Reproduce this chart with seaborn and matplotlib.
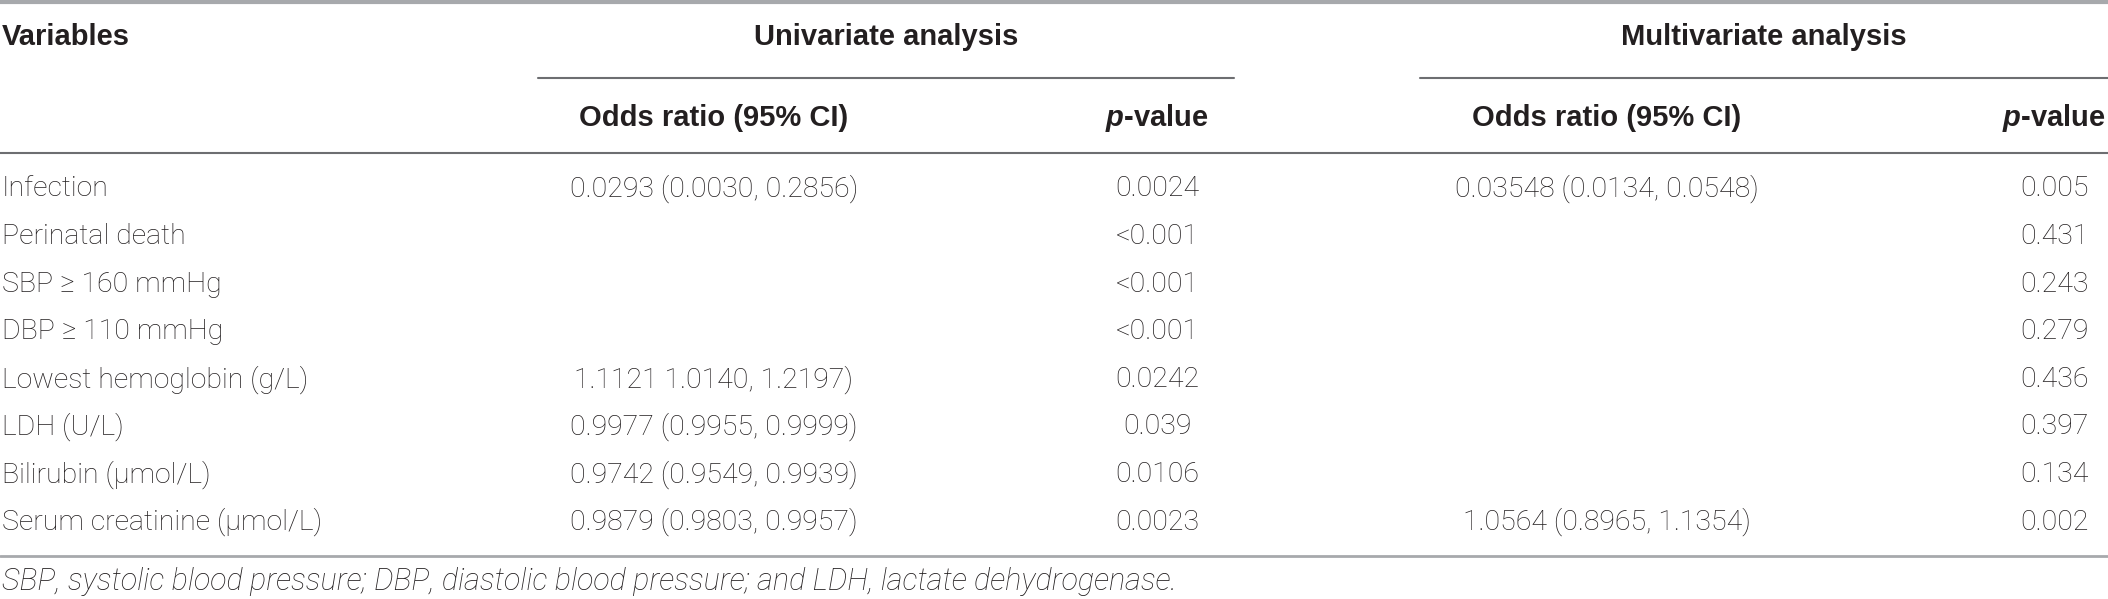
import matplotlib
matplotlib.use("Agg")
import matplotlib.pyplot as plt
import seaborn as sns

# table contents
variables = [
    "Infection",
    "Perinatal death",
    "SBP \u2265 160 mmHg",
    "DBP \u2265 110 mmHg",
    "Lowest hemoglobin (g/L)",
    "LDH (U/L)",
    "Bilirubin (\u03bcmol/L)",
    "Serum creatinine (\u03bcmol/L)",
]
uni_or = [
    "0.0293 (0.0030, 0.2856)",
    "",
    "",
    "",
    "1.1121 1.0140, 1.2197)",
    "0.9977 (0.9955, 0.9999)",
    "0.9742 (0.9549, 0.9939)",
    "0.9879 (0.9803, 0.9957)",
]
uni_p = ["0.0024", "<0.001", "<0.001", "<0.001", "0.0242", "0.039", "0.0106", "0.0023"]
multi_or = [
    "0.03548 (0.0134, 0.0548)",
    "", "", "", "", "", "",
    "1.0564 (0.8965, 1.1354)",
]
multi_p = ["0.005", "0.431", "0.243", "0.279", "0.436", "0.397", "0.134", "0.002"]
group_labels = ["Univariate analysis", "Multivariate analysis"]
sub_labels = ["Odds ratio (95% CI)", "$\\it{p}$-value", "Odds ratio (95% CI)", "$\\it{p}$-value"]
footnote = "SBP, systolic blood pressure; DBP, diastolic blood pressure; and LDH, lactate dehydrogenase."

sns.set_theme(style="white")
plt.rcParams["font.family"] = ["Roboto", "DejaVu Sans"]
plt.rcParams["mathtext.fontset"] = "custom"
plt.rcParams["mathtext.it"] = "Liberation Sans:italic:bold"

W, H = 2108, 599
fig = plt.figure(figsize=(W / 100, H / 100), dpi=100)
ax = fig.add_axes([0, 0, 1, 1])
ax.set_xlim(0, W)
ax.set_ylim(H, 0)
ax.axis("off")

txt = "#231f20"
rule = "#6d6e71"
fs = 20.5
head = dict(fontsize=21, fontweight="bold", color=txt, family=["Liberation Sans", "DejaVu Sans"])
body = dict(fontsize=fs, fontweight="light", color=txt)

# layout
col_x = [714, 1157, 1607, 2054]
group_x = [(538, 1234), (1420, W)]
row0, row_step = 189, 47.6

# rules
ax.axhline(1.5, color="#a7a9ac", lw=3)
for x0, x1 in group_x:
    ax.plot([x0, x1], [78, 78], color=rule, lw=1.5)
ax.axhline(153, color=rule, lw=1.5)
ax.axhline(556, color="#a7a9ac", lw=2)

# headers
ax.text(2, 37, "Variables", ha="left", va="center", **head)
for (x0, x1), lab in zip(group_x, group_labels):
    ax.text((x0 + x1) / 2, 37, lab, ha="center", va="center", **head)
for x, lab in zip(col_x, sub_labels):
    ax.text(x, 118, lab, ha="center", va="center", **head)

# body
for i, v in enumerate(variables):
    y = row0 + i * row_step
    ax.text(2, y, v, ha="left", va="center", **body)
    for x, col in zip(col_x, [uni_or, uni_p, multi_or, multi_p]):
        if col[i]:
            ax.text(x, y, col[i], ha="center", va="center", **body)

ax.text(2, 582, footnote, ha="left", va="center", fontsize=22, fontweight="light",
        style="italic", color=txt)

fig.savefig("out.png", dpi=100)
